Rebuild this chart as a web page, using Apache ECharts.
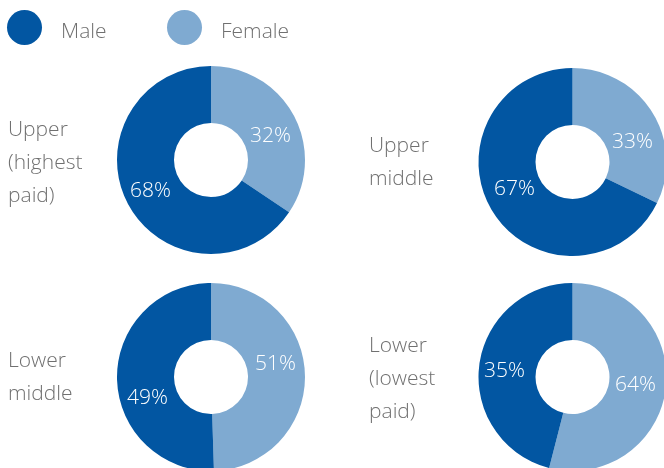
<!DOCTYPE html>
<html>
<head>
<meta charset="utf-8">
<script src="https://cdn.jsdelivr.net/npm/echarts@6/dist/echarts.min.js"></script>
<style>html,body{margin:0;padding:0;background:#fff}#c{width:664px;height:468px}</style>
</head>
<body>
<div id="c"></div>
<script>
// Data
var groups = ["Upper\n(highest\npaid)", "Upper\nmiddle", "Lower\nmiddle", "Lower\n(lowest\npaid)"];
var seriesNames = ["Male", "Female"];
// printed percentages
var malePct = [68, 67, 49, 35];
var femalePct = [32, 33, 51, 64];
// arc shares as drawn in the picture
var maleShare = [65.6, 67.8, 50.5, 46];
var femaleShare = [34.4, 32.2, 49.5, 54];

var MALE = '#0256A2', FEMALE = '#7FAAD1', TXT = '#707070';
var FONT = '"Open Sans", "Noto Sans", sans-serif';

var centers = [[211, 160], [572.5, 162], [211, 377], [572.5, 377]];
var textPos = [[8, 114], [369, 130], [8, 345], [369, 330]];
// label nudges [female dx,dy, male dx,dy]
var nudges = [[-1, 8, 0, -1], [2, 16, 0, -9], [-4, -12, 5, 20], [-5, -1, 0, 3]];

var chart = echarts.init(document.getElementById('c'), null, {renderer: 'canvas'});
var series = groups.map(function (g, i) {
  return {
    type: 'pie',
    name: g,
    center: centers[i],
    radius: [37, 94],
    startAngle: 90,
    clockwise: true,
    silent: true,
    animation: false,
    label: {
      show: true,
      position: 'inside',
      color: '#fff',
      fontSize: 21,
      fontWeight: 300,
      fontFamily: FONT,
      formatter: function (p) {
        return (p.name === 'Male' ? malePct[i] : femalePct[i]) + '%';
      }
    },
    labelLayout: function (p) {
      var n = nudges[i];
      return p.dataIndex === 0 ? {dx: n[0], dy: n[1]} : {dx: n[2], dy: n[3]};
    },
    labelLine: {show: false},
    itemStyle: {borderWidth: 0},
    data: [
      {name: seriesNames[1], value: femaleShare[i], itemStyle: {color: FEMALE}},
      {name: seriesNames[0], value: maleShare[i], itemStyle: {color: MALE}}
    ]
  };
});

var graphics = groups.map(function (g, i) {
  return {
    type: 'text',
    left: textPos[i][0],
    top: textPos[i][1],
    style: {
      text: g,
      fontSize: 21,
      fontWeight: 300,
      fontFamily: FONT,
      fill: TXT,
      lineHeight: 33
    }
  };
});

function legend(name, left) {
  return {
    data: [{name: name, icon: 'circle'}],
    left: left,
    top: 10,
    padding: 0,
    itemWidth: 35,
    itemHeight: 35,
    selectedMode: false,
    formatter: '{a|{name}}',
    textStyle: {
      rich: {
        a: {fontSize: 21, fontWeight: 300, color: TXT, fontFamily: FONT, padding: [9, 0, 0, 14]}
      }
    }
  };
}

chart.setOption({
  backgroundColor: '#fff',
  animation: false,
  legend: [legend('Male', 7), legend('Female', 167)],
  graphic: graphics,
  series: series
});
</script>
</body>
</html>
